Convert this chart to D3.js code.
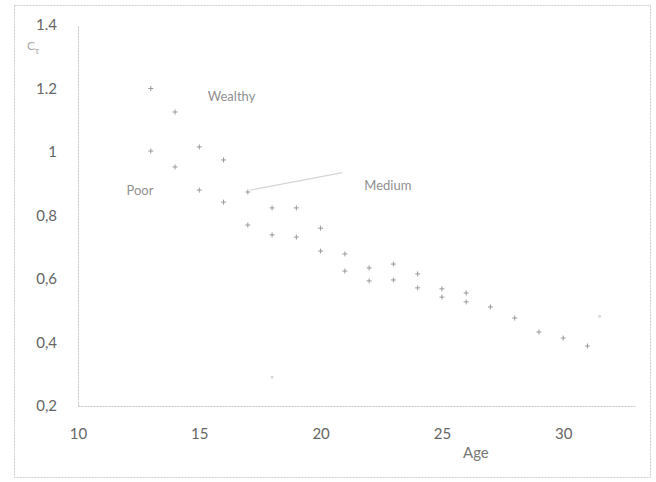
<!DOCTYPE html>
<html><head><meta charset="utf-8">
<script src="https://cdn.jsdelivr.net/npm/d3@7"></script>
<style>body{margin:0;background:#fff}svg{display:block}</style>
</head><body><div id="chart"></div>
<script>
// Data
const upperAges = [13,14,15,16,17,18,19,20,21,22,23,24,25,26];
const upperVals = [1.20,1.126,1.016,0.975,0.874,0.824,0.824,0.76,0.679,0.635,0.647,0.616,0.569,0.556];
const lowerAges = [13,14,15,16,17,18,19,20,21,22,23,24,25,26,27,28,29,30,31];
const lowerVals = [1.003,0.953,0.88,0.842,0.77,0.739,0.732,0.688,0.625,0.594,0.597,0.572,0.543,0.528,0.512,0.477,0.433,0.414,0.389];
const extraAges = [18,31.5];
const extraVals = [0.291,0.483];
const xTicks = [10,15,20,25,30];
const yTicks = [0.2,0.4,0.6,0.8,1.0,1.2,1.4];
const yTickLabels = ["0,2","0,4","0,6","0,8","1","1.2","1.4"];
const annotations = [
  {text:"Wealthy", age:15.35, val:1.16},
  {text:"Poor", age:12.0, val:0.865},
  {text:"Medium", age:21.8, val:0.88}
];

const W=656,H=482;
const svg=d3.select("#chart").append("svg").attr("width",W).attr("height",H);
const x=d3.scaleLinear().domain([10,33]).range([78,636]);
const y=d3.scaleLinear().domain([0.2,1.4]).range([406,25]);
const font="Lato, 'Open Sans', sans-serif";

// outer frame
svg.append("rect").attr("x",14.5).attr("y",5.5).attr("width",636).attr("height",472)
  .attr("fill","none").attr("stroke","#cccccc").attr("stroke-dasharray","2,1");

// axes
const gx=svg.append("g").attr("transform","translate(0,406)")
  .call(d3.axisBottom(x).tickValues(xTicks).tickSize(0).tickPadding(22).tickFormat(d3.format("d")));
const gy=svg.append("g").attr("transform","translate(78,0)")
  .call(d3.axisLeft(y).tickValues(yTicks).tickSize(0).tickPadding(21).tickFormat((d,i)=>yTickLabels[i]));
[gx,gy].forEach(g=>{
  g.select(".domain").attr("stroke","#c4c4c4").attr("stroke-dasharray","2,1");
  g.selectAll("text").attr("font-family",font).attr("font-size",15).attr("fill","#666");
});

// markers
function plus(data){
  const g=svg.append("g").attr("stroke","#9a9a9a").attr("stroke-width",1);
  data.forEach(d=>{
    const cx=x(d[0]),cy=y(d[1]);
    g.append("line").attr("x1",cx-2.5).attr("x2",cx+2.5).attr("y1",cy).attr("y2",cy);
    g.append("line").attr("x1",cx).attr("x2",cx).attr("y1",cy-2.5).attr("y2",cy+2.5);
  });
}
plus(upperAges.map((a,i)=>[a,upperVals[i]]));
plus(lowerAges.map((a,i)=>[a,lowerVals[i]]));
svg.append("g").selectAll("circle").data(extraAges.map((a,i)=>[a,extraVals[i]])).join("circle")
  .attr("cx",d=>x(d[0])).attr("cy",d=>y(d[1])).attr("r",1.5).attr("fill","#d8d8d8");

// medium pointer line
svg.append("line").attr("x1",x(17.1)).attr("y1",y(0.88)).attr("x2",x(20.9)).attr("y2",y(0.935))
  .attr("stroke","#d4d4d4").attr("stroke-width",1.2);

// annotations
svg.append("g").selectAll("text").data(annotations).join("text")
  .attr("x",d=>x(d.age)).attr("y",d=>y(d.val)).text(d=>d.text)
  .attr("font-family",font).attr("font-size",13).attr("fill","#909090");

// axis titles
svg.append("text").attr("x",463).attr("y",458).text("Age")
  .attr("font-family",font).attr("font-size",15).attr("fill","#777");
const ct=svg.append("text").attr("x",27).attr("y",50).attr("font-family",font).attr("font-size",12).attr("fill","#aaa");
ct.append("tspan").text("C");
ct.append("tspan").attr("dy",4).attr("font-size",9).text("τ");
</script></body></html>
